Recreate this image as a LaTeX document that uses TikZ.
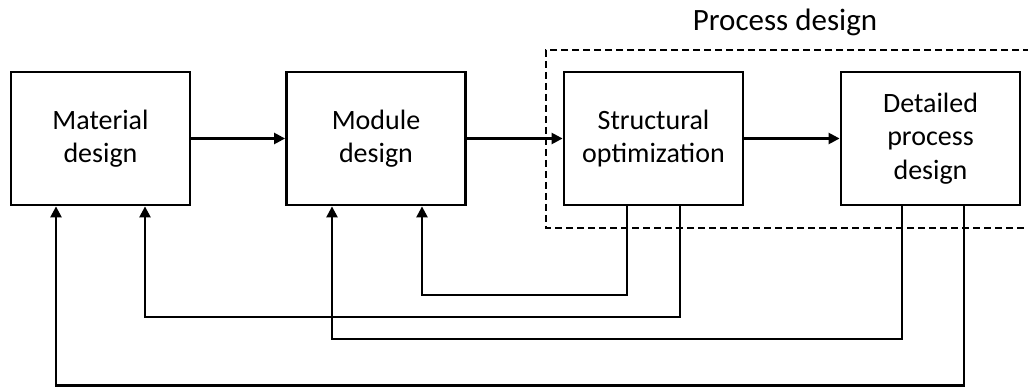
\documentclass[tikz,border=0pt]{standalone}
\usepackage{fontspec}
\setmainfont{Carlito}
\usetikzlibrary{arrows.meta}
\tikzset{
  block/.style={draw, line width=2.8pt, minimum width=179pt, minimum height=133pt,
    align=center, inner sep=0pt, font=\fontsize{28}{33.5}\selectfont},
  flow/.style={line width=2.4pt, -{Triangle[length=11pt,width=11pt]}},
  fb/.style={flow, rounded corners=0pt},
  group/.style={line width=2.4pt, dash pattern=on 7pt off 4pt},
}
\begin{document}
\begin{tikzpicture}[x=1pt, y=-1pt]
  \useasboundingbox (0,0) rectangle (1028,387);

  % design stages
  \node[block] (mat) at (100.5,138.5) {Material\\design};
  \node[block] (mod) at (376,138.5) {Module\\design};
  \node[block] (str) at (653.5,138.5) {Structural\\optimization};
  \node[block] (det) at (930.5,138.5) {Detailed\\process\\design};

  % process design group
  \coordinate (gtr) at (1030,50);
  \coordinate (gbr) at (1030,228);
  \draw[group] (gtr) -- (546,50) -- (546,228) -- (gbr);
  \node[anchor=base, font=\fontsize{31}{36}\selectfont] (glabel) at (785,31) {Process design};

  % forward flow
  \draw[flow] (mat) -- (mod);
  \draw[flow] (mod) -- (str);
  \draw[flow] (str) -- (det);

  % feedback loops
  \draw[fb] ([xshift=-26.5pt]str.south) -- ([xshift=-26.5pt]str.south |- 0,295)
            -| ([xshift=46pt]mod.south);
  \draw[fb] ([xshift=26.5pt]str.south) -- ([xshift=26.5pt]str.south |- 0,317)
            -| ([xshift=44.5pt]mat.south);
  \draw[fb] ([xshift=-28.5pt]det.south) -- ([xshift=-28.5pt]det.south |- 0,339)
            -| ([xshift=-44pt]mod.south);
  \draw[fb] ([xshift=33.5pt]det.south) -- ([xshift=33.5pt]det.south |- 0,385.5)
            -| ([xshift=-44.5pt]mat.south);
\end{tikzpicture}
\end{document}
